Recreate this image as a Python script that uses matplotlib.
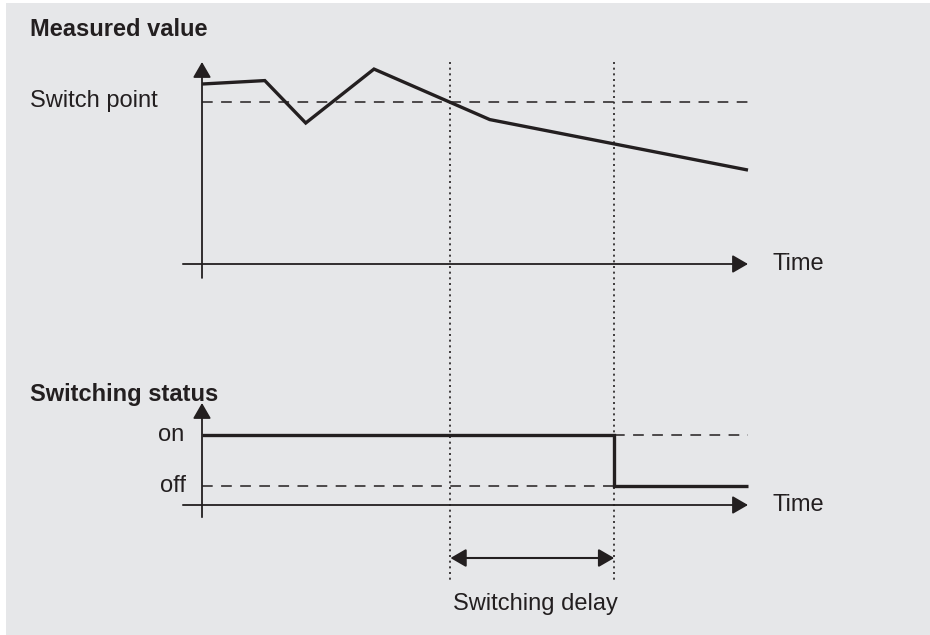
#!/usr/bin/env python3
"""Switch point / switching delay diagram: measured value vs. switching status."""
import matplotlib
matplotlib.use("Agg")
import matplotlib.pyplot as plt
from matplotlib.transforms import blended_transform_factory

# measured value curve (time 0..100, value 0..100)
meas_time = [0.0, 11.5, 19.0, 31.5, 52.7, 100.0]
meas_value = [89.1, 90.8, 69.8, 96.5, 71.5, 46.5]
switch_point = 80.2

# switching status (off = 0, on = 1)
status_time = [0.0, 75.5, 75.5, 100.0]
status_value = [1, 1, 0, 0]
status_on = 1
status_off = 0

# switch point crossing and delayed switch
t_cross = 45.5
t_switch = 75.5

INK = "#231f20"
BG = "#e6e7e9"
W, H = 930, 635

plt.rcParams["font.family"] = ["Liberation Sans", "DejaVu Sans"]

fig = plt.figure(figsize=(W / 100, H / 100), dpi=100)
fig.patch.set_facecolor("white")

# full-figure overlay in pixel units for the background and labels
ov = fig.add_axes([0, 0, 1, 1])
ov.set_xlim(0, W)
ov.set_ylim(H, 0)
ov.axis("off")
ov.add_patch(plt.Rectangle((6, 3), W - 6, H - 3, facecolor=BG, edgecolor="none", zorder=0))


def px_axes(left, right, bottom, top):
    return fig.add_axes([left / W, (H - bottom) / H, (right - left) / W, (bottom - top) / H])


def arrow(ax, x0, y0, x1, y1, style="-|>", lw=1.3):
    ax.annotate("", xy=(x1, y1), xytext=(x0, y0),
                arrowprops=dict(arrowstyle=f"{style},head_length=9.5,head_width=5.5",
                                mutation_scale=1, lw=lw, color=INK,
                                shrinkA=0, shrinkB=0),
                annotation_clip=False)


# top panel: measured value
ax1 = px_axes(202, 748, 264, 62)
ax1.set_xlim(0, 100)
ax1.set_ylim(0, 100)
ax1.axis("off")
arrow(ax1, -3.5, 0, 100, 0)
arrow(ax1, 0, -6.9, 0, 100)
ax1.plot([0, 100], [switch_point] * 2, color=INK, lw=1.1, ls=(0, (7, 5.5)), clip_on=False)
ax1.plot(meas_time, meas_value, color=INK, lw=2.4, clip_on=False,
         solid_joinstyle="miter", solid_capstyle="butt")

# bottom panel: switching status
ax2 = px_axes(202, 748, 505, 403)
ax2.set_xlim(0, 100)
ax2.set_ylim(-0.37, 1.64)
ax2.axis("off")
arrow(ax2, -3.5, -0.37, 100, -0.37)
arrow(ax2, 0, -0.61, 0, 1.64)
ax2.plot([0, t_switch], [status_off] * 2, color=INK, lw=1.1, ls=(0, (7, 5.5)), clip_on=False)
ax2.plot([t_switch, 100], [status_on] * 2, color=INK, lw=1.1, ls=(0, (7, 5.5)), clip_on=False)
ax2.plot(status_time, status_value, color=INK, lw=2.4, clip_on=False,
         solid_joinstyle="miter", solid_capstyle="butt")

# dotted guides and delay arrow spanning both panels
tr = blended_transform_factory(ax1.transData, ov.transData)
for t in (t_cross, t_switch):
    ov.plot([t, t], [62, 580], transform=tr, color=INK, lw=1.2, ls=(0, (1.2, 2.2)), clip_on=False)
ov.annotate("", xy=(t_switch, 558), xytext=(t_cross, 558), xycoords=tr, textcoords=tr,
            arrowprops=dict(arrowstyle="<|-|>,head_length=9.5,head_width=5.5",
                            mutation_scale=1, lw=1.5, color=INK, shrinkA=0, shrinkB=0))

# labels
fs = 17
ov.text(30, 30, "Measured value", fontsize=fs, fontweight="bold", color=INK, va="center")
ov.text(30, 101, "Switch point", fontsize=fs, color=INK, va="center")
ov.text(772, 264, "Time", fontsize=fs, color=INK, va="center")
ov.text(30, 395, "Switching status", fontsize=fs, fontweight="bold", color=INK, va="center")
ov.text(184, 435, "on", fontsize=fs, color=INK, va="center", ha="right")
ov.text(186, 486, "off", fontsize=fs, color=INK, va="center", ha="right")
ov.text(772, 505, "Time", fontsize=fs, color=INK, va="center")
ov.text(535, 604, "Switching delay", fontsize=fs, color=INK, va="center", ha="center")

fig.savefig("out.png", dpi=100, facecolor=fig.get_facecolor())
